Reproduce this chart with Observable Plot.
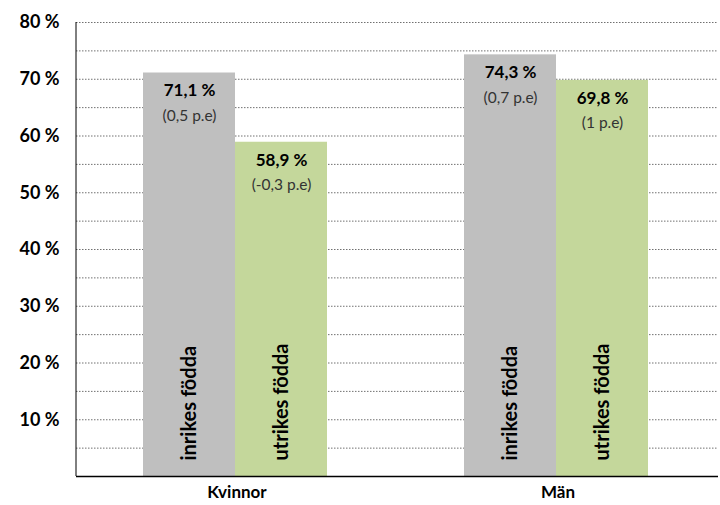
<!DOCTYPE html>
<html><head><meta charset="utf-8">
<script src="https://cdn.jsdelivr.net/npm/d3@7"></script>
<script src="https://cdn.jsdelivr.net/npm/@observablehq/plot@0.6"></script>
<style>body{margin:0;background:#fff;}</style>
</head><body><div id="chart"></div>
<script>
const groups = ["Kvinnor", "Män"];
const series = ["inrikes födda", "utrikes födda"];
const values = [71.1, 58.9, 74.3, 69.8];
const valueLabels = ["71,1 %", "58,9 %", "74,3 %", "69,8 %"];
const changes = ["(0,5 p.e)", "(-0,3 p.e)", "(0,7 p.e)", "(1 p.e)"];
const yTicks = [10, 20, 30, 40, 50, 60, 70, 80];
const gridLines = [5, 10, 15, 20, 25, 30, 35, 40, 45, 50, 55, 60, 65, 70, 75, 80];
const colors = ["#bfbfbf", "#c4d79b"];

const data = values.map((v, i) => ({
  group: groups[Math.floor(i / 2)],
  series: series[i % 2],
  value: v,
  label: valueLabels[i],
  change: changes[i]
}));

const plot = Plot.plot({
  width: 720, height: 505,
  marginLeft: 76, marginRight: 2, marginTop: 22, marginBottom: 29,
  style: {fontFamily: "Lato, sans-serif", background: "white", color: "black"},
  fx: {domain: groups, padding: 0, label: null},
  x: {domain: series, axis: null, paddingInner: 0, paddingOuter: 0.74},
  y: {domain: [0, 80], label: null},
  color: {domain: series, range: colors},
  marks: [
    Plot.ruleY(gridLines, {stroke: "#707070", strokeDasharray: "1.5,1.5", strokeWidth: 1}),
    Plot.barY(data, {fx: "group", x: "series", y: "value", fill: "series", dx: -2}),
    Plot.ruleY([0], {stroke: "black", strokeWidth: 1.5}),
    Plot.axisY(yTicks, {tickSize: 0, tickPadding: 17, tickFormat: d => `${d} %`, fontWeight: "bold", fontSize: 18, label: null}),
    Plot.axisFx({anchor: "bottom", tickSize: 0, tickPadding: 9, fontSize: 17, fontWeight: "bold", label: null}),
    Plot.text(data, {fx: "group", x: "series", y: "value", text: "label", dy: 18, dx: -2, fontWeight: "bold", fontSize: 17, fill: "black"}),
    Plot.text(data, {fx: "group", x: "series", y: "value", text: "change", dy: 43, dx: -2, fontSize: 15.5, fill: "#333333"}),
    Plot.text(data, {fx: "group", x: "series", y: () => 0, text: "series", rotate: -90, textAnchor: "start", dy: -16, dx: -2, fontSize: 20, fontWeight: "bold", fill: "black"})
  ]
});

const ys = plot.scale("y");
const fxs = plot.scale("fx");
d3.select(plot).append("line")
  .attr("x1", fxs.range[0]).attr("x2", fxs.range[0])
  .attr("y1", ys.apply(0)).attr("y2", ys.apply(80))
  .attr("stroke", "black").attr("stroke-width", 1);

document.getElementById("chart").appendChild(plot);
</script>
</body></html>
